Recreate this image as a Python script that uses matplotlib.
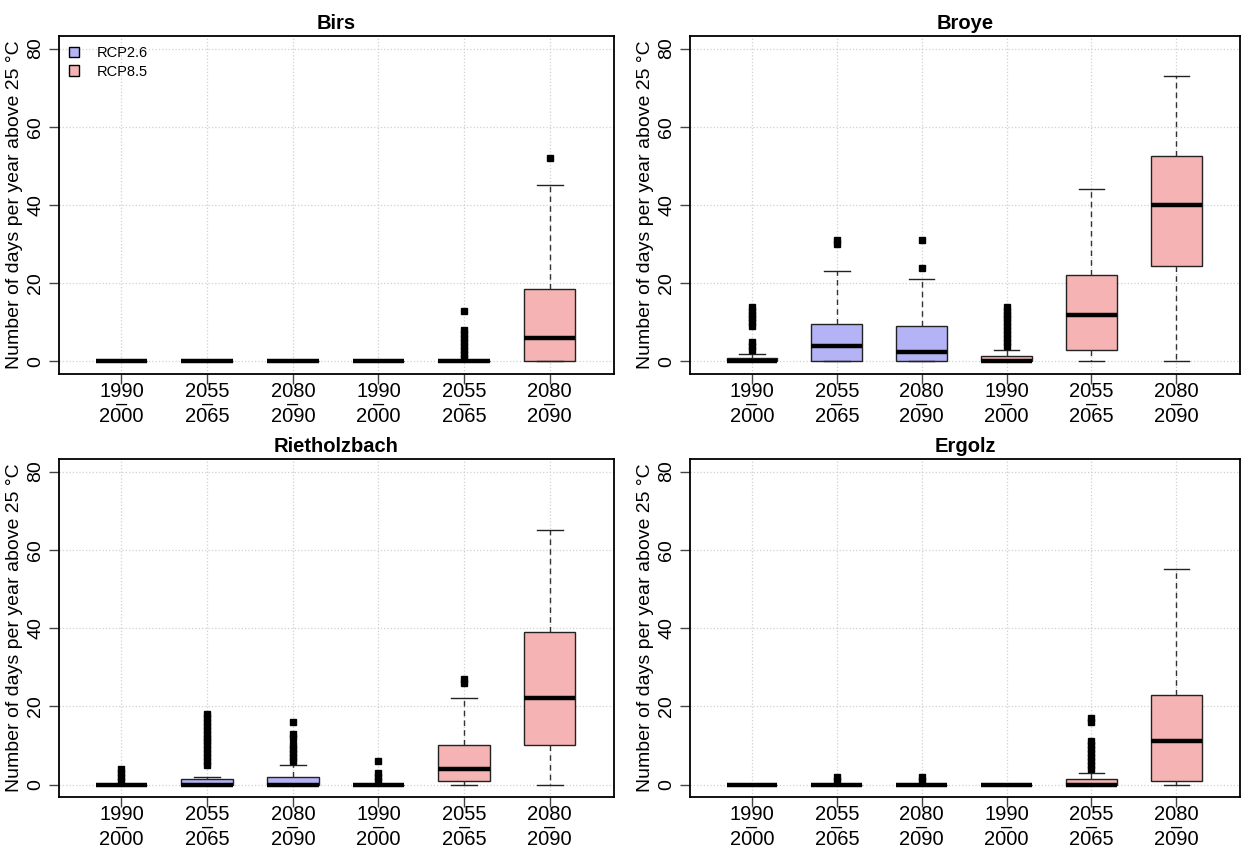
import matplotlib.pyplot as plt
from matplotlib.patches import Patch

plt.rcParams['font.family'] = ['Liberation Sans', 'DejaVu Sans']

periods = ['1990\n‒\n2000', '2055\n‒\n2065', '2080\n‒\n2090'] * 2
scenarios = ['RCP2.6'] * 3 + ['RCP8.5'] * 3
scen_colors = {'RCP2.6': '#b3b3f5', 'RCP8.5': '#f5b3b3'}

# box statistics per catchment (days per year above 25 °C)
birs_q1 = [0, 0, 0, 0, 0, 0]
birs_med = [0, 0, 0, 0, 0, 6]
birs_q3 = [0, 0, 0, 0, 0, 18.5]
birs_lo = [0, 0, 0, 0, 0, 0]
birs_hi = [0, 0, 0, 0, 0, 45]
birs_fliers = [[], [], [], [], [1, 2, 3, 4, 5, 6, 7, 8, 13], [52]]

broye_q1 = [0, 0, 0, 0, 3, 24.5]
broye_med = [0, 4, 2.5, 0, 12, 40]
broye_q3 = [1, 9.5, 9, 1.5, 22, 52.5]
broye_lo = [0, 0, 0, 0, 0, 0]
broye_hi = [2, 23, 21, 3, 44, 73]
broye_fliers = [[3, 4, 5, 9, 10, 11, 12, 13, 14], [30, 31], [24, 31],
                [4, 5, 6, 7, 8, 9, 10, 11, 12, 13, 14], [], []]

riet_q1 = [0, 0, 0, 0, 1, 10]
riet_med = [0, 0, 0, 0, 4, 22]
riet_q3 = [0, 1.5, 2, 0, 10, 39]
riet_lo = [0, 0, 0, 0, 0, 0]
riet_hi = [0, 2, 5, 0, 22, 65]
riet_fliers = [[1, 2, 3, 4], list(range(5, 19)), [6, 7, 8, 9, 10, 12, 13, 16],
               [1, 2, 3, 6], [26, 27], []]

ergolz_q1 = [0, 0, 0, 0, 0, 1]
ergolz_med = [0, 0, 0, 0, 0, 11]
ergolz_q3 = [0, 0, 0, 0, 1.5, 23]
ergolz_lo = [0, 0, 0, 0, 0, 0]
ergolz_hi = [0, 0, 0, 0, 3, 55]
ergolz_fliers = [[], [1, 2], [1, 2], [], [4, 5, 6, 7, 8, 9, 10, 11, 16, 17], []]


def draw_site(ax, title, q1, med, q3, lo, hi, fliers, legend=False):
    stats = []
    for i in range(len(periods)):
        stats.append(dict(q1=q1[i], med=med[i], q3=q3[i], whislo=lo[i],
                          whishi=hi[i], fliers=fliers[i], label=periods[i]))
    pos = list(range(1, len(periods) + 1))

    ax.grid(True, color='#d0d0d0', linestyle=':', linewidth=0.9)
    ax.set_axisbelow(True)
    bp = ax.bxp(stats, positions=pos, widths=0.6, capwidths=0.3,
                patch_artist=True,
                boxprops=dict(edgecolor='#222222', linewidth=1.0),
                medianprops=dict(color='black', linewidth=3.2),
                whiskerprops=dict(color='#333333', linestyle=(0, (4, 3)), linewidth=1.0),
                capprops=dict(color='#222222', linewidth=1.0),
                flierprops=dict(marker='s', markerfacecolor='black',
                                markeredgecolor='black', markersize=4))
    for patch, sc in zip(bp['boxes'], scenarios):
        patch.set_facecolor(scen_colors[sc])

    ax.set_xlim(0.27, 6.75)
    ax.set_ylim(-3.2, 83.2)
    ax.set_yticks([0, 20, 40, 60, 80])
    ax.set_xticks(pos)
    ax.set_xticklabels(periods, linespacing=0.56, fontsize=14.5)
    ax.tick_params(axis='both', length=7, width=1.0, color='#444444')
    ax.tick_params(axis='y', labelsize=14)
    ax.tick_params(axis='x', pad=-1)
    plt.setp(ax.get_yticklabels(), rotation=90, va='center')
    for sp in ax.spines.values():
        sp.set_linewidth(1.3)
    ax.set_ylabel('Number of days per year above 25 °C', fontsize=14, labelpad=3)
    ax.set_title(title, fontsize=14.5, fontweight='bold', pad=5)

    if legend:
        handles = [Patch(facecolor=scen_colors[s], edgecolor='black', label=s)
                   for s in ['RCP2.6', 'RCP8.5']]
        ax.legend(handles=handles, loc='upper left', frameon=False, fontsize=10.5,
                  handlelength=0.7, handleheight=0.7, handletextpad=1.2,
                  borderaxespad=0.3, labelspacing=0.3)


fig = plt.figure(figsize=(12.44, 8.48), dpi=100)
ax_tl = fig.add_axes([0.0474, 0.559, 0.4462, 0.3985])
ax_tr = fig.add_axes([0.5547, 0.559, 0.4421, 0.3985])
ax_bl = fig.add_axes([0.0474, 0.0601, 0.4462, 0.3986])
ax_br = fig.add_axes([0.5547, 0.0601, 0.4421, 0.3986])

draw_site(ax_tl, 'Birs', birs_q1, birs_med, birs_q3, birs_lo, birs_hi, birs_fliers, legend=True)
draw_site(ax_tr, 'Broye', broye_q1, broye_med, broye_q3, broye_lo, broye_hi, broye_fliers)
draw_site(ax_bl, 'Rietholzbach', riet_q1, riet_med, riet_q3, riet_lo, riet_hi, riet_fliers)
draw_site(ax_br, 'Ergolz', ergolz_q1, ergolz_med, ergolz_q3, ergolz_lo, ergolz_hi, ergolz_fliers)

fig.savefig('out.png', dpi=100)
